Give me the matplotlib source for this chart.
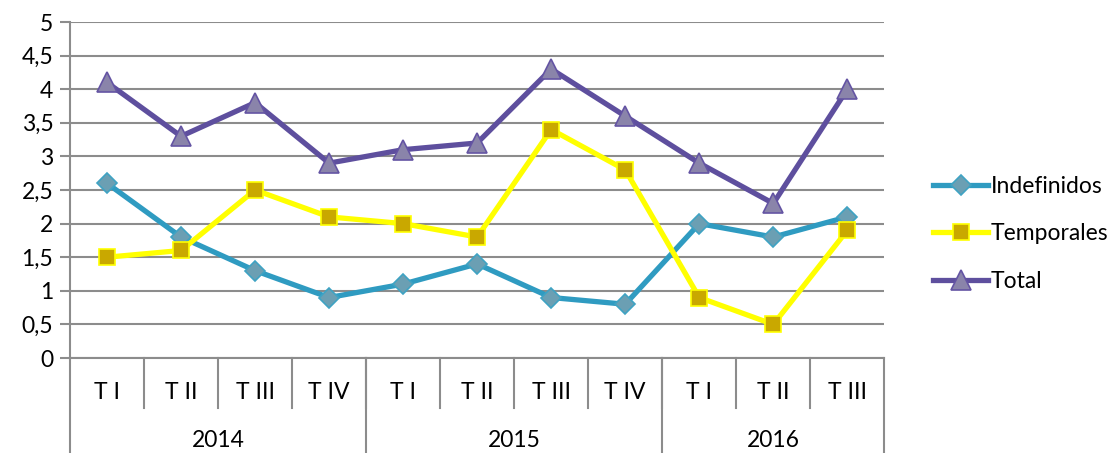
import matplotlib
matplotlib.use("Agg")
from matplotlib import pyplot as plt
import matplotlib.transforms as mtransforms

quarters = ["T I", "T II", "T III", "T IV", "T I", "T II", "T III", "T IV", "T I", "T II", "T III"]
years = ["2014", "2015", "2016"]
year_counts = [4, 4, 3]

indefinidos = [2.6, 1.8, 1.3, 0.9, 1.1, 1.4, 0.9, 0.8, 2.0, 1.8, 2.1]
temporales = [1.5, 1.6, 2.5, 2.1, 2.0, 1.8, 3.4, 2.8, 0.9, 0.5, 1.9]
total = [4.1, 3.3, 3.8, 2.9, 3.1, 3.2, 4.3, 3.6, 2.9, 2.3, 4.0]

plt.rcParams['font.family'] = ['Lato', 'DejaVu Sans']
fs = 16.5

fig = plt.figure(figsize=(11.11, 4.53), dpi=100)
ax = fig.add_axes([0.063, 0.2097, 0.733, 0.7417])

x = list(range(len(quarters)))
grid_c = "#8c8c8c"

ax.plot(x, indefinidos, color="#2f9bc1", lw=3.8, marker="D", markersize=10,
        markerfacecolor="#6b9fb3", markeredgecolor="#3fa3c3", markeredgewidth=1.2,
        label="Indefinidos", zorder=3)
ax.plot(x, temporales, color="#ffff00", lw=3.8, marker="s", markersize=12,
        markerfacecolor="#c9a800", markeredgecolor="#ffff00", markeredgewidth=1.2,
        label="Temporales", zorder=3)
ax.plot(x, total, color="#5e4f9e", lw=3.8, marker="^", markersize=14,
        markerfacecolor="#8a84aa", markeredgecolor="#6454a3", markeredgewidth=1.2,
        label="Total", zorder=3)

ax.set_xlim(-0.5, len(quarters) - 0.5)
ax.set_ylim(0, 5)
ax.set_yticks([i * 0.5 for i in range(11)])
ax.set_yticklabels(["0", "0,5", "1", "1,5", "2", "2,5", "3", "3,5", "4", "4,5", "5"])
ax.tick_params(axis='y', labelsize=fs, length=7, width=1.5, color=grid_c, pad=5)
ax.set_xticks([])
ax.yaxis.grid(True, color=grid_c, lw=1.5)
ax.set_axisbelow(True)
for s in ["top", "right"]:
    ax.spines[s].set_visible(False)
ax.spines["left"].set_color(grid_c)
ax.spines["left"].set_linewidth(1.5)
ax.spines["bottom"].set_color(grid_c)
ax.spines["bottom"].set_linewidth(1.5)

# category axis: two rows
trans = mtransforms.blended_transform_factory(ax.transData, ax.transAxes)
row1 = -0.149
row2 = -0.285
for i, q in enumerate(quarters):
    ax.text(i, -0.104, q, transform=trans, ha="center", va="center", fontsize=fs)
for b in range(1, len(quarters)):
    ax.plot([b - 0.5, b - 0.5], [0, row1], transform=trans, color=grid_c, lw=1.5, clip_on=False)
start = 0
bounds = [-0.5]
for y, n in zip(years, year_counts):
    ax.text(start + n / 2 - 0.5, -0.245, y, transform=trans, ha="center", va="center", fontsize=fs)
    start += n
    bounds.append(start - 0.5)
for b in bounds:
    ax.plot([b, b], [0, row2], transform=trans, color=grid_c, lw=1.5, clip_on=False)

ax.legend(loc="center left", bbox_to_anchor=(1.035, 0.37), frameon=False, fontsize=fs,
          handlelength=2.4, handletextpad=0.1, labelspacing=1.15)

fig.savefig("out.png", dpi=100)
